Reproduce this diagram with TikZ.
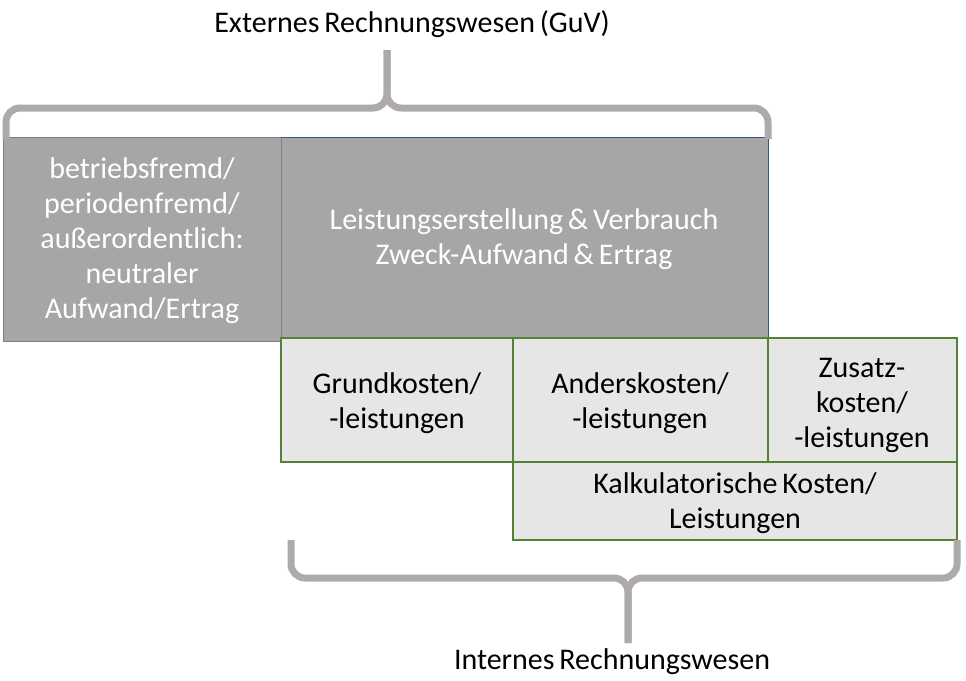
\documentclass[tikz,border=0pt]{standalone}
\usepackage{fontspec}
\setmainfont{Carlito}[WordSpace={0.7,0.5,0.3}]
\begin{document}
\begin{tikzpicture}[x=1pt,y=-1pt,
  txt/.style={font=\fontsize{30}{35}\selectfont, align=center, inner sep=0pt},
  darkbox/.style={fill=darkfill, draw=darkline, line width=0.8pt},
  lightbox/.style={fill=lightfill, draw=greenline, line width=1.3pt},
  bracepath/.style={draw=bracegray, line width=7pt, rounded corners=14pt, line cap=butt}]
\definecolor{darkfill}{HTML}{A6A6A6}
\definecolor{darkline}{HTML}{7F7F7F}
\definecolor{lightfill}{HTML}{E7E6E6}
\definecolor{greenline}{HTML}{548235}
\definecolor{bracegray}{HTML}{AEAAAA}
\definecolor{blueline}{HTML}{2F5597}
\useasboundingbox (0,0) rectangle (966,680);
% dark boxes
\path[darkbox] (3,137) rectangle (281,341);
\path[darkbox] (281,137) rectangle (768,338);
\draw[blueline, line width=0.9pt] (281,137) -- (768,137) -- (768,338);
\node[txt, text=white] (neutral) at (142,241) {betriebsfremd/\\periodenfremd/\\außerordentlich:\\neutraler\\Aufwand/Ertrag};
\node[txt, text=white] (zweck) at (524,239) {Leistungserstellung \& Verbrauch\\Zweck-Aufwand \& Ertrag};
% light boxes
\path[lightbox] (281,338) rectangle (513,462);
\path[lightbox] (513,338) rectangle (768,462);
\path[lightbox] (768,338) rectangle (957,462);
\path[lightbox] (513,462) rectangle (957,540);
\node[txt] (grund) at (397,403) {Grundkosten/\\-leistungen};
\node[txt] (anders) at (640,403) {Anderskosten/\\-leistungen};
\node[txt] (zusatz) at (862,405) {Zusatz-\\kosten/\\-leistungen};
\node[txt] (kalk) at (735,503) {Kalkulatorische Kosten/\\Leistungen};
% braces
\coordinate (tl) at (6,139);
\coordinate (tr) at (768,139);
\coordinate (tm) at (387,108);
\coordinate (tt) at (387,50);
\draw[bracepath] (tl) -- (6,108) -- (tm) -- (tt);
\draw[bracepath] (tr) -- (768,108) -- (tm) -- (tt);
\coordinate (bl) at (291,540);
\coordinate (br) at (957,540);
\coordinate (bm) at (628,578);
\coordinate (bt) at (628,643);
\draw[bracepath] (bl) -- (291,578) -- (bm) -- (bt);
\draw[bracepath] (br) -- (957,578) -- (bm) -- (bt);
\node[txt] (ext) at (412,24) {Externes Rechnungswesen (GuV)};
\node[txt] (int) at (612,662) {Internes Rechnungswesen};
\end{tikzpicture}
\end{document}
